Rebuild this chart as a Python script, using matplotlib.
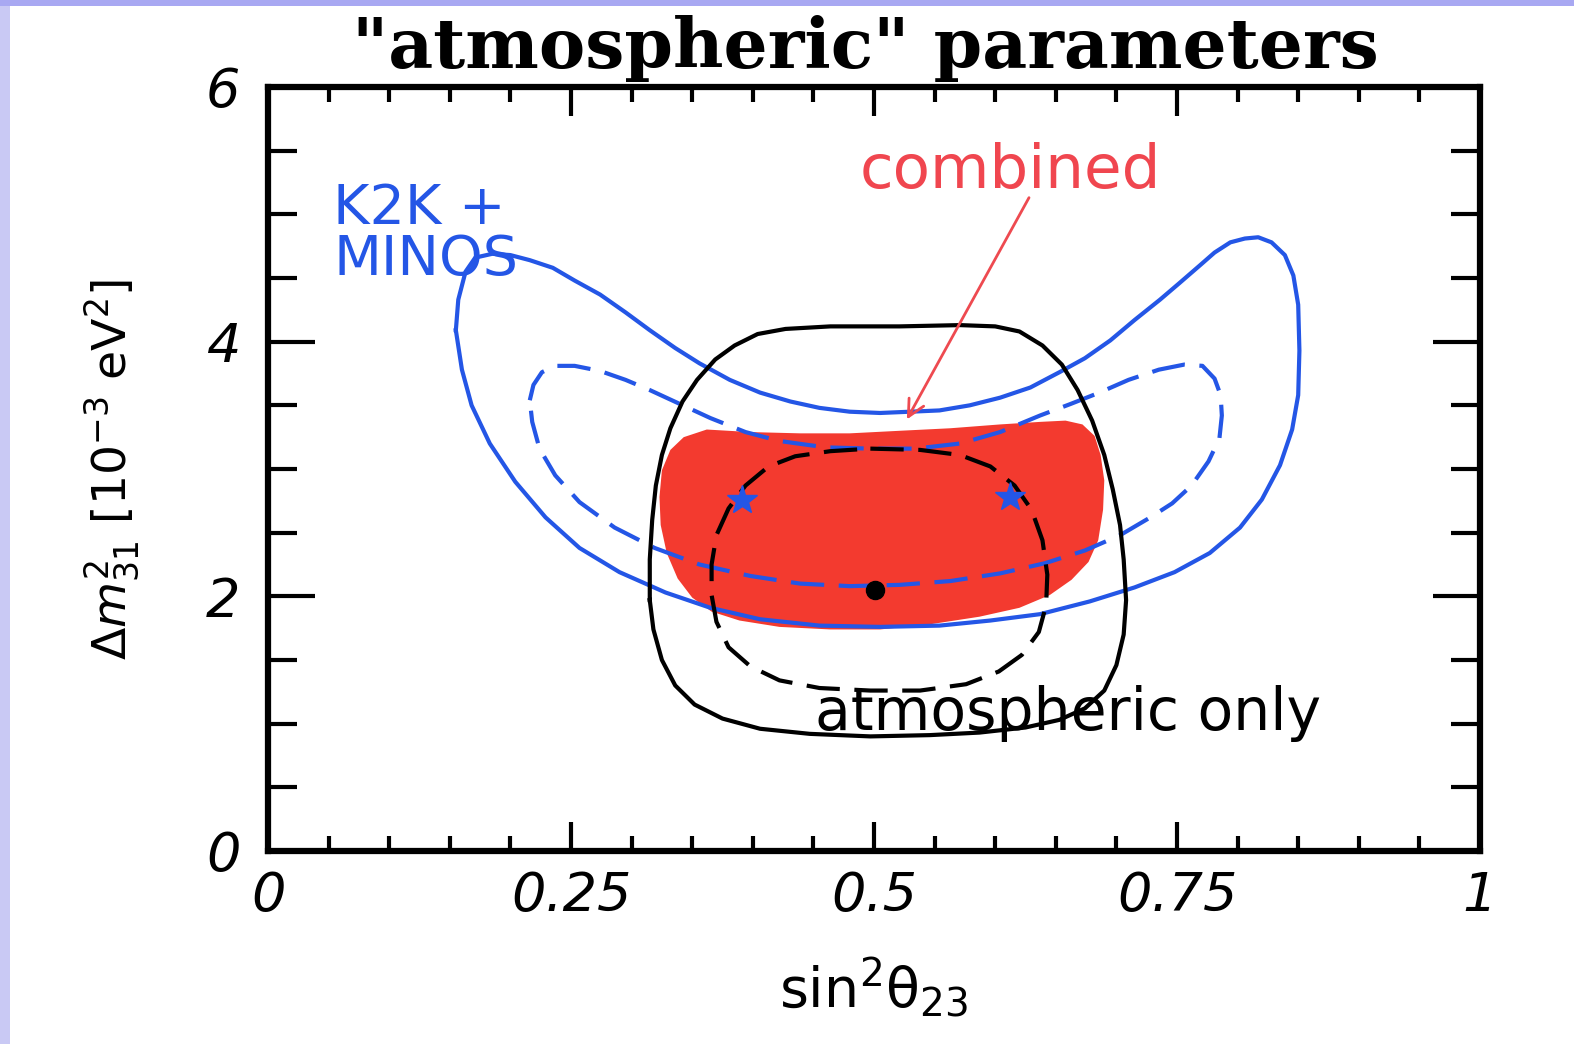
import matplotlib.pyplot as plt
from matplotlib.patches import Rectangle
from matplotlib.ticker import MultipleLocator

# K2K + MINOS, solid contour
k2k_x = [0.155, 0.157, 0.163, 0.171, 0.185, 0.200, 0.216, 0.235, 0.253, 0.274, 0.295,
         0.315, 0.336, 0.356, 0.381, 0.406, 0.431, 0.455, 0.480, 0.505, 0.530, 0.554,
         0.579, 0.604, 0.629, 0.653, 0.674, 0.695, 0.715, 0.736, 0.752, 0.769, 0.781,
         0.794, 0.806, 0.817, 0.828, 0.839, 0.846, 0.850, 0.851, 0.850, 0.845, 0.835,
         0.820, 0.802, 0.777, 0.748, 0.715, 0.678, 0.637, 0.596, 0.554, 0.505, 0.455,
         0.406, 0.365, 0.328, 0.290, 0.257, 0.229, 0.204, 0.183, 0.168, 0.160, 0.155]
k2k_y = [4.09, 4.33, 4.55, 4.66, 4.69, 4.68, 4.64, 4.58, 4.48, 4.37, 4.23,
         4.09, 3.95, 3.83, 3.70, 3.60, 3.53, 3.48, 3.45, 3.44, 3.45, 3.46,
         3.50, 3.56, 3.64, 3.76, 3.87, 4.01, 4.17, 4.33, 4.46, 4.60, 4.70,
         4.78, 4.81, 4.82, 4.78, 4.68, 4.52, 4.29, 3.93, 3.58, 3.31, 3.03,
         2.76, 2.54, 2.34, 2.19, 2.07, 1.96, 1.86, 1.81, 1.77, 1.76, 1.77,
         1.82, 1.91, 2.03, 2.19, 2.38, 2.62, 2.90, 3.20, 3.50, 3.78, 4.09]

# K2K + MINOS, dashed contour
k2k_dash_x = [0.216, 0.219, 0.226, 0.237, 0.253, 0.274, 0.295, 0.315, 0.340, 0.365, 0.394,
              0.422, 0.460, 0.497, 0.534, 0.571, 0.604, 0.637, 0.662, 0.686, 0.710, 0.735,
              0.756, 0.771, 0.781, 0.786, 0.787, 0.785, 0.776, 0.762, 0.746, 0.728, 0.703,
              0.674, 0.641, 0.604, 0.563, 0.521, 0.480, 0.439, 0.398, 0.356, 0.319, 0.286,
              0.257, 0.237, 0.224, 0.218, 0.216]
k2k_dash_y = [3.54, 3.66, 3.76, 3.81, 3.81, 3.77, 3.70, 3.62, 3.51, 3.40, 3.29,
              3.22, 3.17, 3.16, 3.16, 3.20, 3.29, 3.42, 3.51, 3.60, 3.70, 3.78,
              3.82, 3.81, 3.71, 3.58, 3.42, 3.24, 3.06, 2.87, 2.73, 2.62, 2.48,
              2.36, 2.26, 2.18, 2.12, 2.09, 2.08, 2.10, 2.16, 2.25, 2.38, 2.54,
              2.74, 2.95, 3.16, 3.37, 3.54]

# atmospheric only, solid contour
atm_x = [0.315, 0.315, 0.317, 0.320, 0.325, 0.332, 0.342, 0.354, 0.369, 0.385, 0.404,
         0.427, 0.464, 0.521, 0.571, 0.600, 0.620, 0.639, 0.655, 0.668, 0.680, 0.690,
         0.697, 0.703, 0.706, 0.708, 0.706, 0.700, 0.690, 0.674, 0.653, 0.625, 0.587,
         0.546, 0.497, 0.447, 0.406, 0.375, 0.352, 0.336, 0.325, 0.318, 0.315]
atm_y = [1.97, 2.29, 2.60, 2.87, 3.11, 3.32, 3.53, 3.70, 3.86, 3.97, 4.06,
         4.10, 4.12, 4.12, 4.13, 4.12, 4.08, 3.97, 3.82, 3.62, 3.38, 3.11,
         2.84, 2.56, 2.29, 1.97, 1.70, 1.46, 1.26, 1.12, 1.03, 0.97, 0.93,
         0.91, 0.90, 0.92, 0.96, 1.04, 1.15, 1.30, 1.50, 1.74, 1.97]

# atmospheric only, dashed contour
atm_dash_x = [0.497, 0.538, 0.571, 0.596, 0.616, 0.630, 0.639, 0.643, 0.642, 0.636, 0.622,
              0.603, 0.576, 0.538, 0.497, 0.455, 0.422, 0.398, 0.380, 0.370, 0.366, 0.366,
              0.370, 0.380, 0.394, 0.413, 0.435, 0.464, 0.497]
atm_dash_y = [3.16, 3.15, 3.11, 3.02, 2.87, 2.68, 2.44, 2.17, 1.93, 1.72, 1.54,
              1.41, 1.31, 1.26, 1.26, 1.28, 1.34, 1.45, 1.60, 1.80, 2.01, 2.25,
              2.48, 2.69, 2.87, 3.02, 3.10, 3.14, 3.16]

# combined region
comb_x = [0.362, 0.398, 0.439, 0.480, 0.521, 0.563, 0.604, 0.637, 0.658, 0.672, 0.682,
          0.687, 0.690, 0.689, 0.685, 0.677, 0.663, 0.645, 0.620, 0.587, 0.546, 0.505,
          0.464, 0.422, 0.389, 0.366, 0.350, 0.338, 0.329, 0.324, 0.323, 0.325, 0.332,
          0.343]
comb_y = [3.31, 3.29, 3.28, 3.28, 3.30, 3.32, 3.35, 3.37, 3.38, 3.35, 3.26,
          3.11, 2.91, 2.68, 2.44, 2.27, 2.13, 2.01, 1.91, 1.84, 1.78, 1.74,
          1.74, 1.76, 1.81, 1.88, 1.99, 2.14, 2.34, 2.56, 2.78, 2.99, 3.15,
          3.25]

star_x = [0.391, 0.612]
star_y = [2.76, 2.78]
best_x = [0.501]
best_y = [2.05]

blue = "#2456e6"
red = "#f33a2f"

plt.rcParams["mathtext.fontset"] = "dejavusans"

fig = plt.figure(figsize=(15.74, 10.44), dpi=100)
fig.add_artist(Rectangle((0, 0), 10 / 1574, 1, transform=fig.transFigure,
                         facecolor="#c9c9f4", edgecolor="none"))
fig.add_artist(Rectangle((0, 1 - 6 / 1044), 1, 6 / 1044, transform=fig.transFigure,
                         facecolor="#a8a8f2", edgecolor="none"))

ax = fig.add_axes([268 / 1574, 193 / 1044, 1212 / 1574, 764 / 1044])

ax.fill(comb_x, comb_y, color=red, lw=0, zorder=1)
ax.plot(k2k_x, k2k_y, color=blue, lw=3, solid_joinstyle="round", zorder=3)
ax.plot(k2k_dash_x, k2k_dash_y, color=blue, lw=3, dashes=(8, 3.5), zorder=3)
ax.plot(atm_x, atm_y, color="black", lw=3, solid_joinstyle="round", zorder=3)
ax.plot(atm_dash_x, atm_dash_y, color="black", lw=3, dashes=(8, 3.5), zorder=3)
ax.plot(star_x, star_y, "*", color=blue, ms=22, zorder=4)
ax.plot(best_x, best_y, "o", color="black", ms=13, zorder=4)

ax.text(0.488, 5.21, "combined", color="#f0464f", fontsize=44, va="baseline")
ax.annotate("", xy=(0.526, 3.37), xytext=(0.629, 5.15),
            arrowprops=dict(arrowstyle="->", color="#ee4a50", lw=2, mutation_scale=30))
ax.text(0.054, 5.25, "K2K +\nMINOS", color=blue, fontsize=40, va="top", linespacing=0.92)
ax.text(0.451, 0.95, "atmospheric only", color="black", fontsize=42, va="baseline")

ax.set_xlim(0, 1)
ax.set_ylim(0, 6)
ax.set_xticks([0, 0.25, 0.5, 0.75, 1])
ax.set_xticklabels(["0", "0.25", "0.5", "0.75", "1"])
ax.set_yticks([0, 2, 4, 6])
ax.xaxis.set_minor_locator(MultipleLocator(0.05))
ax.yaxis.set_minor_locator(MultipleLocator(0.5))
ax.tick_params(which="both", direction="in", top=True, right=True, width=3)
ax.tick_params(axis="x", which="major", length=21, pad=14)
ax.tick_params(axis="x", which="minor", length=11)
ax.tick_params(axis="y", which="major", length=34, pad=20)
ax.tick_params(axis="y", which="minor", length=21)
for lab in ax.get_xticklabels() + ax.get_yticklabels():
    lab.set_fontsize(39)
    lab.set_fontstyle("italic")
for s in ax.spines.values():
    s.set_linewidth(4.5)

ax.set_xlabel("sin$^2$θ$_{23}$", fontsize=40, labelpad=24)
ax.set_ylabel(r"$\Delta m^2_{31}$ [10$^{-3}$ eV$^2$]", fontsize=34, labelpad=46)

fig.text(0.55, 0.935, '"atmospheric" parameters', fontsize=50, fontweight="bold",
         family="DejaVu Serif", ha="center", va="baseline")

fig.savefig("out.png", dpi=100)
